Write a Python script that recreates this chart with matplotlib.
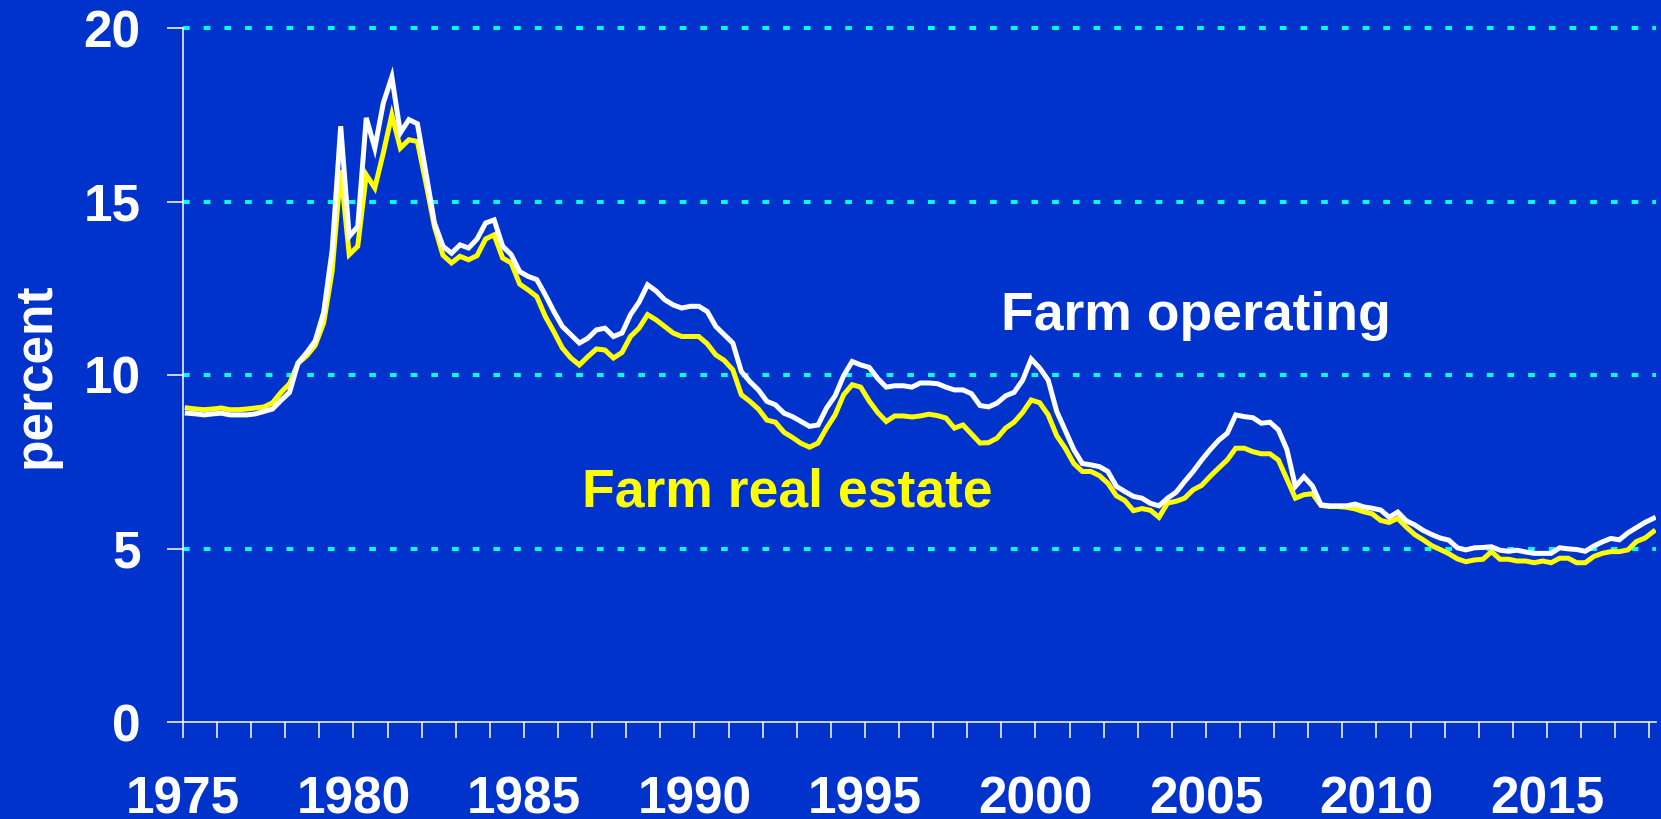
import numpy as np
import matplotlib
matplotlib.use("Agg")
import matplotlib.pyplot as plt

# Quarterly interest rates (percent), 1975Q1 .. 2018Q1, plotted at mid-quarter
first_year = 1975
operating = [
    8.90, 8.88, 8.85, 8.88,   # 1975
    8.90, 8.85, 8.85, 8.85,   # 1976
    8.88, 8.95, 9.02, 9.27,   # 1977
    9.50, 10.35, 10.64, 10.98,  # 1978
    11.80, 13.60, 17.17, 13.99,  # 1979
    14.28, 17.41, 16.54, 17.84,  # 1980
    18.59, 16.98, 17.36, 17.24,  # 1981
    15.82, 14.38, 13.71, 13.51,  # 1982
    13.75, 13.66, 13.92, 14.38,  # 1983
    14.47, 13.71, 13.47, 12.98,  # 1984
    12.84, 12.75, 12.31, 11.83,  # 1985
    11.40, 11.16, 10.92, 11.06,  # 1986
    11.30, 11.35, 11.11, 11.21,  # 1987
    11.74, 12.10, 12.60, 12.42,  # 1988
    12.17, 12.02, 11.93, 11.98,  # 1989
    11.98, 11.83, 11.40, 11.16,  # 1990
    10.92, 10.10, 9.81, 9.57,   # 1991
    9.24, 9.14, 8.90, 8.80,     # 1992
    8.66, 8.52, 8.56, 9.05,     # 1993
    9.40, 9.98, 10.39, 10.29,   # 1994
    10.22, 9.90, 9.65, 9.69,    # 1995
    9.69, 9.65, 9.77, 9.77,     # 1996
    9.75, 9.65, 9.57, 9.57,     # 1997
    9.46, 9.12, 9.08, 9.19,     # 1998
    9.40, 9.50, 9.85, 10.46,    # 1999
    10.20, 9.85, 8.95, 8.40,    # 2000
    7.85, 7.45, 7.41, 7.36,     # 2001
    7.22, 6.79, 6.64, 6.50,     # 2002
    6.45, 6.30, 6.23, 6.45,     # 2003
    6.62, 6.93, 7.22, 7.55,     # 2004
    7.85, 8.12, 8.32, 8.85,     # 2005
    8.80, 8.77, 8.61, 8.64,     # 2006
    8.42, 7.85, 6.79, 7.07,     # 2007
    6.80, 6.26, 6.23, 6.23,     # 2008
    6.23, 6.28, 6.20, 6.16,     # 2009
    6.11, 5.90, 6.05, 5.80,     # 2010
    5.68, 5.52, 5.40, 5.30,     # 2011
    5.24, 5.02, 4.96, 5.02,     # 2012
    5.03, 5.05, 4.95, 4.92,     # 2013
    4.95, 4.90, 4.86, 4.86,     # 2014
    4.86, 5.02, 4.99, 4.97,     # 2015
    4.92, 5.07, 5.19, 5.29,     # 2016
    5.25, 5.45, 5.60, 5.75,     # 2017
    5.87,                       # 2018
]
real_estate = [
    9.05, 9.02, 9.00, 9.02,   # 1975
    9.05, 9.00, 9.00, 9.02,   # 1976
    9.05, 9.08, 9.20, 9.50,   # 1977
    9.75, 10.34, 10.55, 10.85,  # 1978
    11.50, 13.00, 15.90, 13.47,  # 1979
    13.71, 15.77, 15.39, 16.40,  # 1980
    17.50, 16.54, 16.78, 16.73,  # 1981
    15.53, 14.28, 13.45, 13.23,  # 1982
    13.42, 13.32, 13.44, 13.92,  # 1983
    14.04, 13.37, 13.23, 12.62,  # 1984
    12.45, 12.26, 11.69, 11.25,  # 1985
    10.78, 10.49, 10.29, 10.53,  # 1986
    10.75, 10.72, 10.49, 10.65,  # 1987
    11.11, 11.35, 11.74, 11.59,  # 1988
    11.40, 11.21, 11.11, 11.11,  # 1989
    11.11, 10.90, 10.58, 10.42,  # 1990
    10.15, 9.43, 9.24, 9.02,    # 1991
    8.70, 8.64, 8.35, 8.20,     # 1992
    8.03, 7.92, 8.04, 8.47,     # 1993
    8.85, 9.43, 9.72, 9.65,     # 1994
    9.25, 8.92, 8.66, 8.82,     # 1995
    8.82, 8.79, 8.82, 8.87,     # 1996
    8.83, 8.76, 8.47, 8.56,     # 1997
    8.30, 8.04, 8.05, 8.18,     # 1998
    8.47, 8.64, 8.92, 9.28,     # 1999
    9.20, 8.85, 8.25, 7.89,     # 2000
    7.45, 7.22, 7.22, 7.10,     # 2001
    6.88, 6.52, 6.38, 6.09,     # 2002
    6.15, 6.10, 5.90, 6.31,     # 2003
    6.36, 6.45, 6.69, 6.82,     # 2004
    7.08, 7.32, 7.55, 7.89,     # 2005
    7.89, 7.79, 7.73, 7.73,     # 2006
    7.55, 7.00, 6.45, 6.55,     # 2007
    6.58, 6.24, 6.21, 6.21,     # 2008
    6.19, 6.14, 6.06, 6.00,     # 2009
    5.81, 5.75, 5.87, 5.62,     # 2010
    5.40, 5.25, 5.08, 4.97,     # 2011
    4.85, 4.70, 4.62, 4.67,     # 2012
    4.69, 4.91, 4.69, 4.69,     # 2013
    4.64, 4.64, 4.59, 4.64,     # 2014
    4.59, 4.72, 4.72, 4.59,     # 2015
    4.59, 4.77, 4.86, 4.91,     # 2016
    4.91, 4.96, 5.20, 5.30,     # 2017
    5.49,                       # 2018
]
year_ticks = list(range(1975, 2019))
label_years = [1975, 1980, 1985, 1990, 1995, 2000, 2005, 2010, 2015]
y_ticks = [0, 5, 10, 15, 20]
grid_levels = [5, 10, 15, 20]
label_operating = "Farm operating"
label_real_estate = "Farm real estate"
y_title = "percent"

BG = "#0033CC"
FONT = ["Liberation Sans", "DejaVu Sans"]
plt.rcParams["font.family"] = FONT
plt.rcParams["font.weight"] = "bold"
plt.rcParams["lines.scale_dashes"] = False

t = first_year + 0.125 + 0.25 * np.arange(len(operating))

fig = plt.figure(figsize=(16.61, 8.19), dpi=100, facecolor=BG)
ax = fig.add_axes([183 / 1661, 97 / 819, 1473 / 1661, 694 / 819])
ax.set_facecolor(BG)

for lvl in grid_levels:
    ax.axhline(lvl, color="#00FFFF", lw=2.9, ls=(0, (4.8, 10.1)),
               dash_capstyle="butt", clip_on=False, zorder=1)

ax.plot(t, real_estate, color="#FFFF00", lw=3.6, zorder=3,
        solid_joinstyle="miter")
ax.plot(t, operating, color="#FFFFFF", lw=3.6, zorder=4,
        solid_joinstyle="miter")

ax.set_xlim(1975, 2018.2)
ax.set_ylim(0, 20)

for s in ["top", "right"]:
    ax.spines[s].set_visible(False)
for s in ["left", "bottom"]:
    ax.spines[s].set_color("white")
    ax.spines[s].set_linewidth(1.1)

ax.set_yticks(y_ticks)
ax.set_yticklabels([str(v) for v in y_ticks])
ax.set_xticks(label_years)
ax.set_xticklabels([str(v) for v in label_years])
ax.set_xticks([y for y in year_ticks if y not in label_years], minor=True)

ax.tick_params(axis="y", direction="out", length=11.5, width=1.1,
               color="white", labelcolor="white", labelsize=37, pad=19)
ax.tick_params(axis="x", which="both", direction="out", length=11.5,
               width=1.1, color="white", labelcolor="white", labelsize=37,
               pad=27)
for lab in ax.get_xticklabels() + ax.get_yticklabels():
    lab.set_fontweight("bold")

ax.set_ylabel(y_title, color="white", fontsize=37, fontweight="bold")
ax.yaxis.set_label_coords(-0.083, 0.5)

ax.text(1999.0, 11.3, label_operating, color="white", fontsize=38.5,
        fontweight="bold", ha="left", va="baseline")
ax.text(1986.7, 6.21, label_real_estate, color="#FFFF00", fontsize=38.5,
        fontweight="bold", ha="left", va="baseline")

fig.savefig("out.png", dpi=100, facecolor=BG)
